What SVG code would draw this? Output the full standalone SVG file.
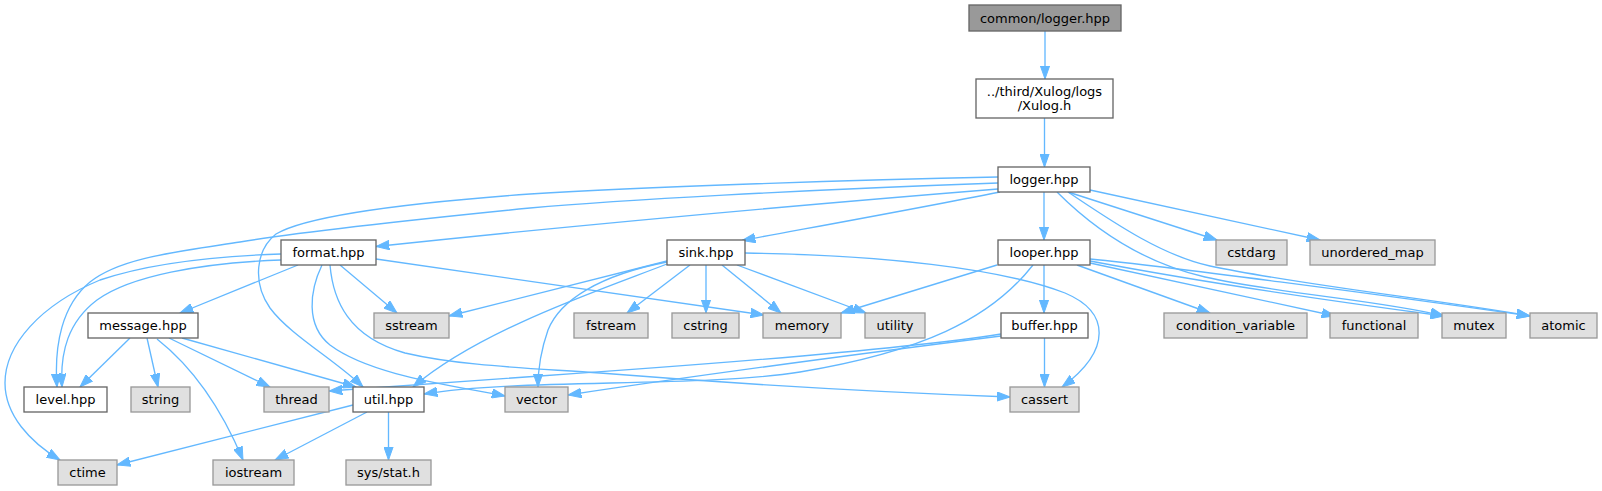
<svg xmlns="http://www.w3.org/2000/svg" width="1602" height="491" viewBox="0 0 1602 491">
<style>
.n rect{fill:#ffffff;stroke:#666666;stroke-width:1.33}
.g rect{fill:#e0e0e0;stroke:#999999;stroke-width:1.33}
.r rect{fill:#999999;stroke:#666666;stroke-width:1.33}
text{font-family:"DejaVu Sans","Noto Sans",sans-serif;font-size:13px;fill:#000000;text-anchor:middle}
#edges path{fill:none;stroke:#63b8ff;stroke-width:1.33;marker-end:url(#arr)}
</style>
<defs>
<marker id="arr" markerUnits="userSpaceOnUse" markerWidth="14" markerHeight="10" refX="13.3" refY="5" orient="auto">
<path d="M0,0.3 L13.3,5 L0,9.7 Z" fill="#63b8ff" stroke="#63b8ff" stroke-width="1"/>
</marker>
</defs>
<rect width="1602" height="491" fill="#ffffff"/>
<g id="edges">
<path d="M1045,31 L1045,79"/>
<path d="M1044.5,118 L1044.5,167"/>
<path d="M1044,192 L1044,240"/>
<path d="M1044,265 L1044,313"/>
<path d="M1044.5,338 L1044.5,387"/>
<path d="M388.5,412 L388.5,460"/>
<path d="M998,189 C800,205 550,228 376,246.5"/>
<path d="M1000,192 C920,208 820,226 742,240.5"/>
<path d="M1068,192 L1217,240"/>
<path d="M1090,190 L1320,240"/>
<path d="M998,183 C800,190 620,200 530,208 C420,219 300,232 240,242 C175,252 120,258 90,282 C62,305 54,345 57,387"/>
<path d="M998,177 C850,180 640,187 530,194 C420,202 310,214 276,234 C256,250 252,282 270,308 C290,335 335,360 363,387"/>
<path d="M1057,192 C1090,225 1140,262 1205,277 C1280,294 1380,300 1444,316"/>
<path d="M1068,192 C1110,220 1160,255 1210,266 C1300,285 1440,300 1530,316"/>
<path d="M298,265 L180,313"/>
<path d="M281,260 C200,263 130,276 97,300 C68,322 60,352 62,387"/>
<path d="M281,254 C220,256 150,263 100,280 C40,305 5,345 5,383 C5,415 30,442 60,460"/>
<path d="M340,265 L397,313"/>
<path d="M376,259 L764,315"/>
<path d="M322,265 C310,290 305,325 330,345 C370,375 450,385 505,396"/>
<path d="M330,265 C333,300 348,337 405,353 C460,366 530,368 600,373 C750,385 900,393 1010,397"/>
<path d="M690,265 L627,313"/>
<path d="M706,265 L706,313"/>
<path d="M722,265 L781,313"/>
<path d="M737,265 L866,313"/>
<path d="M667,261 L449,316"/>
<path d="M667,264 C600,290 480,330 413,387"/>
<path d="M667,262 C600,275 560,300 548,330 C541,350 538,370 538,387"/>
<path d="M745,253 C880,255 1000,268 1065,293 C1110,312 1112,350 1062,387"/>
<path d="M997,265 L841,313"/>
<path d="M1077,265 L1210,313"/>
<path d="M1090,263 L1335,316"/>
<path d="M1090,261 C1180,278 1300,297 1444,316"/>
<path d="M1090,259 C1170,267 1370,293 1530,316"/>
<path d="M1033,265 C990,320 920,352 800,372 C700,388 520,378 424,394"/>
<path d="M1001,334 C900,350 700,365 540,376 C450,382 380,387 329,391"/>
<path d="M1001,336 C850,355 700,375 568,395"/>
<path d="M130,338 L80,387"/>
<path d="M147,338 L158,387"/>
<path d="M157,339 C190,365 220,405 243,460"/>
<path d="M169,338 L270,387"/>
<path d="M182,338 L356,387"/>
<path d="M353,405 L117,465"/>
<path d="M367,412 L275,460"/>
</g>
<g id="node-common" class="r"><rect x="969" y="5" width="152" height="26"/><text x="1045" y="22.5">common/logger.hpp</text></g>
<g id="node-xulog" class="n"><rect x="976" y="79" width="137" height="39"/><text x="1044.5" y="95.5">../third/Xulog/logs</text><text x="1044.5" y="110">/Xulog.h</text></g>
<g id="node-logger" class="n"><rect x="998" y="167" width="92" height="25"/><text x="1044" y="184">logger.hpp</text></g>
<g id="node-format" class="n"><rect x="281" y="240" width="95" height="25"/><text x="328.5" y="257">format.hpp</text></g>
<g id="node-sink" class="n"><rect x="667" y="240" width="78" height="25"/><text x="706" y="257">sink.hpp</text></g>
<g id="node-looper" class="n"><rect x="998" y="240" width="92" height="25"/><text x="1044" y="257">looper.hpp</text></g>
<g id="node-cstdarg" class="g"><rect x="1216" y="240" width="71" height="25"/><text x="1251.5" y="257">cstdarg</text></g>
<g id="node-unordered_map" class="g"><rect x="1310" y="240" width="125" height="25"/><text x="1372.5" y="257">unordered_map</text></g>
<g id="node-message" class="n"><rect x="88" y="313" width="110" height="25"/><text x="143" y="330">message.hpp</text></g>
<g id="node-sstream" class="g"><rect x="374" y="313" width="75" height="25"/><text x="411.5" y="330">sstream</text></g>
<g id="node-fstream" class="g"><rect x="574" y="313" width="74" height="25"/><text x="611" y="330">fstream</text></g>
<g id="node-cstring" class="g"><rect x="672" y="313" width="67" height="25"/><text x="705.5" y="330">cstring</text></g>
<g id="node-memory" class="g"><rect x="763" y="313" width="78" height="25"/><text x="802" y="330">memory</text></g>
<g id="node-utility" class="g"><rect x="865" y="313" width="60" height="25"/><text x="895" y="330">utility</text></g>
<g id="node-buffer" class="n"><rect x="1001" y="313" width="87" height="25"/><text x="1044.5" y="330">buffer.hpp</text></g>
<g id="node-condition_variable" class="g"><rect x="1164" y="313" width="143" height="25"/><text x="1235.5" y="330">condition_variable</text></g>
<g id="node-functional" class="g"><rect x="1330" y="313" width="88" height="25"/><text x="1374" y="330">functional</text></g>
<g id="node-mutex" class="g"><rect x="1442" y="313" width="64" height="25"/><text x="1474" y="330">mutex</text></g>
<g id="node-atomic" class="g"><rect x="1530" y="313" width="67" height="25"/><text x="1563.5" y="330">atomic</text></g>
<g id="node-level" class="n"><rect x="24" y="387" width="83" height="25"/><text x="65.5" y="404">level.hpp</text></g>
<g id="node-string" class="g"><rect x="131" y="387" width="59" height="25"/><text x="160.5" y="404">string</text></g>
<g id="node-thread" class="g"><rect x="264" y="387" width="65" height="25"/><text x="296.5" y="404">thread</text></g>
<g id="node-util" class="n"><rect x="353" y="387" width="71" height="25"/><text x="388.5" y="404">util.hpp</text></g>
<g id="node-vector" class="g"><rect x="505" y="387" width="63" height="25"/><text x="536.5" y="404">vector</text></g>
<g id="node-cassert" class="g"><rect x="1010" y="387" width="69" height="25"/><text x="1044.5" y="404">cassert</text></g>
<g id="node-ctime" class="g"><rect x="58" y="460" width="59" height="25"/><text x="87.5" y="477">ctime</text></g>
<g id="node-iostream" class="g"><rect x="213" y="460" width="81" height="25"/><text x="253.5" y="477">iostream</text></g>
<g id="node-sysstat" class="g"><rect x="346" y="460" width="85" height="25"/><text x="388.5" y="477">sys/stat.h</text></g>
</svg>
